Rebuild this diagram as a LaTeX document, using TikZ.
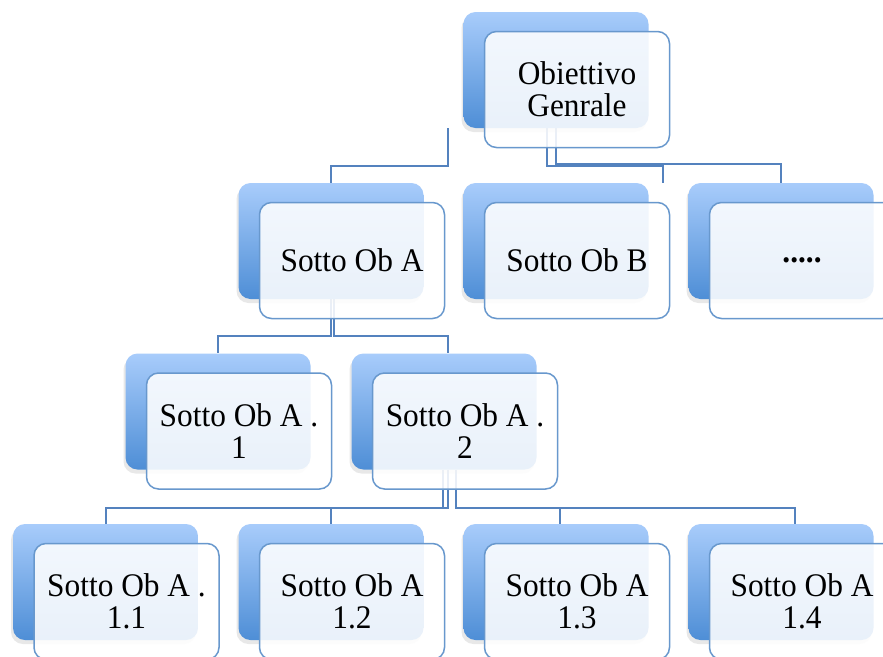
\documentclass[tikz,border=0pt]{standalone}
\usepackage{fontspec}
\setmainfont{Liberation Serif}[FakeStretch=0.95]
\usetikzlibrary{shadows,calc}
\definecolor{connc}{RGB}{84,130,190}
\definecolor{bktop}{RGB}{168,204,251}
\definecolor{bkbot}{RGB}{78,142,214}
\definecolor{frborder}{RGB}{104,152,205}
\pgfdeclarelayer{bg}
\pgfdeclarelayer{lines}
\pgfsetlayers{bg,lines,main}
\newcommand\objbox[4]{%
  \node[backbox] (#1b) at (#2,#3) {};
  \node[frontbox] (#1) at ($(#2,#3)+(21,19.5)$) {#4};}
\begin{document}
\begin{tikzpicture}[x=1pt,y=-1pt,
  backbox/.style={rounded corners=12pt, minimum width=185pt, minimum height=116pt,
    inner sep=0pt, top color=bktop, bottom color=bkbot, draw=none,
    drop shadow={shadow xshift=-2pt, shadow yshift=-4pt, opacity=0.18}},
  frontbox/.style={rounded corners=12pt, minimum width=185pt, minimum height=116pt,
    inner sep=0pt, draw=frborder, line width=1.5pt, fill=white, fill opacity=0.88,
    text opacity=1, align=center, font=\fontsize{33}{32}\selectfont},
  link/.style={draw=connc, line width=2pt}]
\useasboundingbox (0,0) rectangle (883,656);
\begin{pgfonlayer}{bg}
  \fill[white] (0,0) rectangle (883,656);
\end{pgfonlayer}

\objbox{top}{556}{70}{Obiettivo\\Genrale}
\objbox{a}{331}{241}{Sotto Ob A}
\objbox{b}{556}{241}{Sotto Ob B}
\objbox{d}{781}{241}{\textbf{.....}}
\objbox{aone}{218}{411.5}{Sotto Ob A .\\1}
\objbox{atwo}{444}{411.5}{Sotto Ob A .\\2}
\objbox{cone}{105.5}{582}{Sotto Ob A .\\1.1}
\objbox{ctwo}{331}{582}{Sotto Ob A\\1.2}
\objbox{cthree}{556}{582}{Sotto Ob A\\1.3}
\objbox{cfour}{781}{582}{Sotto Ob A\\1.4}

\coordinate (bx) at ([xshift=107pt]bb.north);

\begin{pgfonlayer}{lines}
  \draw[link] ([xshift=-108pt]topb.south) -- ++(0,38) -| (ab.north);
  \draw[link] ([xshift=-9pt]topb.south) -- ++(0,38) -| (bx);
  \draw[link] (topb.south) -- ++(0,36) -| (db.north);
  \draw[link] (ab.south) -- ++(0,37) -| (aoneb.north);
  \draw[link] ([xshift=3pt]ab.south) -- ++(0,37) -| ([xshift=4pt]atwob.north);
  \draw[link] ([xshift=-1pt]atwob.south) -- ++(0,38) -| (coneb.north);
  \draw[link] ([xshift=4pt]atwob.south) -- ++(0,38) -| (ctwob.north);
  \draw[link] ([xshift=12pt]atwob.south) -- ++(0,38) -| ([xshift=4pt]cthreeb.north);
  \draw[link] ([xshift=12pt]atwob.south) -- ++(0,38) -| ([xshift=14pt]cfourb.north);
\end{pgfonlayer}
\end{tikzpicture}
\end{document}
